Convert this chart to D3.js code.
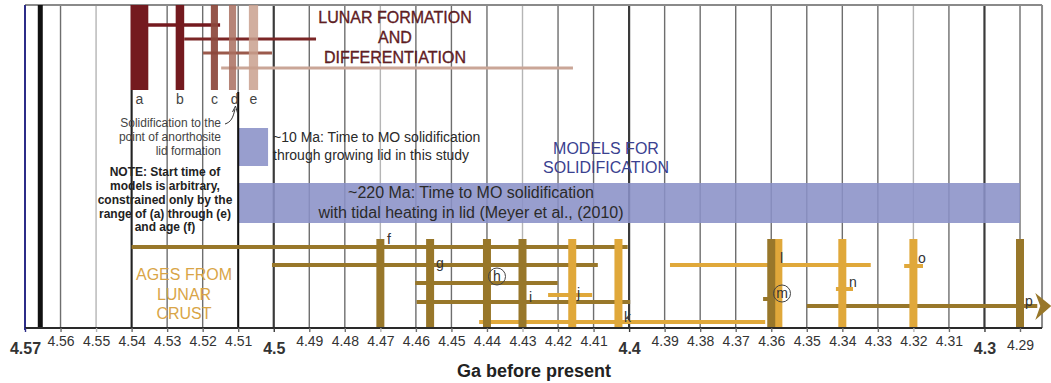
<!DOCTYPE html>
<html>
<head>
<meta charset="utf-8">
<script src="https://cdn.jsdelivr.net/npm/d3@7"></script>
<style>
  body { margin: 0; background: #fff; }
  svg { font-family: "Liberation Sans", Arial, Helvetica, sans-serif; }
</style>
</head>
<body>
<svg id="chart" width="1051" height="383"></svg>
<script>
// Lunar timeline -- ages in Ga before present

var tickValues = [4.57, 4.56, 4.55, 4.54, 4.53, 4.52, 4.51, 4.50, 4.49, 4.48, 4.47, 4.46, 4.45, 4.44,
                  4.43, 4.42, 4.41, 4.40, 4.39, 4.38, 4.37, 4.36, 4.35, 4.34, 4.33, 4.32, 4.31, 4.30, 4.29];
var tickLabels = ["4.57", "4.56", "4.55", "4.54", "4.53", "4.52", "4.51", "4.5", "4.49", "4.48", "4.47", "4.46",
                  "4.45", "4.44", "4.43", "4.42", "4.41", "4.4", "4.39", "4.38", "4.37", "4.36", "4.35", "4.34",
                  "4.33", "4.32", "4.31", "4.3", "4.29"];
var majorLabels = ["4.57", "4.5", "4.4", "4.3"];
var lightLabels = ["4.55", "4.47", "4.43", "4.32"];

var caiAge = 4.5657;   // thick black line
var axisEnd = 4.2838;  // right edge of the frame

// lunar formation and differentiation (a-e)
var formationLabels = ["a", "b", "c", "d", "e"];
var formationBars = [[4.5403, 4.5353], [4.5276, 4.5252], [4.5177, 4.5157], [4.5126, 4.5106], [4.5070, 4.5044]];
var formationRanges = [[4.5354, 4.5151], [4.5252, 4.4881], [4.5199, 4.5005], [4.5148, 4.4158]];

// models for solidification
var modelLabels = ["~10 Ma", "~220 Ma"];
var modelBands = [[4.5098, 4.5016], [4.5098, 4.2900]];

// ages from lunar crust (f-p)
var crustLabels = ["f", "g", "h", "i", "j", "k", "l", "m", "n", "o", "p"];
var crustAges = [4.470, 4.456, 4.440, 4.430, 4.416, 4.403, 4.358, 4.360, 4.340, 4.320, 4.290];
var crustRanges = [[4.5400, 4.4004], [4.5005, 4.4088], [4.4602, 4.4201], [4.4598, 4.3997], [4.4228, 4.4104],
                   [4.4422, 4.3617], [4.3885, 4.3320], [4.3623, 4.3600], [4.3418, 4.3370], [4.3226, 4.3173],
                   [4.3500, 4.2812]];
var crustKind = ["dark", "dark", "dark", "dark", "bright", "bright", "bright", "dark", "bright", "bright", "dark"];
var circled = ["h", "m"];

///////////////////////////////////////////////////////////////////////////////
// layout

var svg = d3.select("#chart");
var yTop = 5, yBottom = 328;

var x = d3.scaleLinear().domain([4.57, 4.29]).range([25, 1020]);

var gold = { dark: "#98772a", bright: "#e0a83a" };
var formationFill = ["#741a1f", "#741a1f", "#8c463b", "#a96f5f", "#c9a08e"];
var formationOpacity = [1, 1, 0.92, 0.85, 0.85];
var formationLine = ["#741a1f", "#7b2626", "#9b5a4c", "#caa697"];
var formationLineY = [25, 39, 53, 68];
var formationLineW = [3.5, 3, 3, 3];

// row of each crust range line and label offsets
var crustLineY = { f: 247, g: 265, h: 283, i: 302, j: 295, k: 322, l: 265, m: 299, n: 289, o: 266, p: 306 };
var crustLabelPos = {
  f: [387, 244], g: [436, 268], h: [497, 281], i: [529, 302], j: [577, 298], k: [624, 322],
  l: [780, 263], m: [782, 298], n: [849, 287], o: [918, 263], p: [1025, 306]
};

var gridColor = function (i) {
  var lab = tickLabels[i];
  if (majorLabels.indexOf(lab) >= 0 && lab !== "4.57") return "#3a3a3a";
  if (lightLabels.indexOf(lab) >= 0) return "#b5b5b5";
  return "#6e6e6e";
};

///////////////////////////////////////////////////////////////////////////////
// gridlines

svg.append("g").selectAll("line")
  .data(tickValues.slice(1))
  .enter().append("line")
  .attr("x1", function (d) { return x(d); })
  .attr("x2", function (d) { return x(d); })
  .attr("y1", yTop).attr("y2", yBottom)
  .attr("stroke", function (d, i) { return gridColor(i + 1); })
  .attr("stroke-width", function (d, i) {
    return majorLabels.indexOf(tickLabels[i + 1]) >= 0 ? 2.2 : 1.4;
  });

// model bands
svg.append("g").selectAll("rect")
  .data(modelBands)
  .enter().append("rect")
  .attr("x", function (d) { return x(d[0]); })
  .attr("width", function (d) { return x(d[1]) - x(d[0]); })
  .attr("y", function (d, i) { return i === 0 ? 128 : 183; })
  .attr("height", function (d, i) { return i === 0 ? 38 : 40; })
  .attr("fill", "#8a91c7")
  .attr("opacity", 0.88);

// frame
svg.append("line").attr("x1", x(4.57)).attr("x2", x(axisEnd)).attr("y1", yTop).attr("y2", yTop)
  .attr("stroke", "#8a8a8a").attr("stroke-width", 2);
svg.append("line").attr("x1", x(axisEnd)).attr("x2", x(axisEnd)).attr("y1", yTop).attr("y2", yBottom)
  .attr("stroke", "#8a8a8a").attr("stroke-width", 2);
svg.append("line").attr("x1", x(4.57)).attr("x2", x(4.57)).attr("y1", yTop).attr("y2", yBottom + 2)
  .attr("stroke", "#2c2c88").attr("stroke-width", 2);
svg.append("line").attr("x1", x(caiAge)).attr("x2", x(caiAge)).attr("y1", yTop).attr("y2", yBottom)
  .attr("stroke", "#111").attr("stroke-width", 5);

// dark start lines at 4.54 and 4.51
svg.append("line").attr("x1", x(4.54)).attr("x2", x(4.54)).attr("y1", 90).attr("y2", yBottom)
  .attr("stroke", "#222").attr("stroke-width", 2);
svg.append("line").attr("x1", x(4.51)).attr("x2", x(4.51)).attr("y1", 92).attr("y2", yBottom)
  .attr("stroke", "#111").attr("stroke-width", 2);

///////////////////////////////////////////////////////////////////////////////
// lunar formation

svg.append("g").selectAll("line")
  .data(formationRanges)
  .enter().append("line")
  .attr("x1", function (d) { return x(d[0]); })
  .attr("x2", function (d) { return x(d[1]); })
  .attr("y1", function (d, i) { return formationLineY[i]; })
  .attr("y2", function (d, i) { return formationLineY[i]; })
  .attr("stroke", function (d, i) { return formationLine[i]; })
  .attr("stroke-width", function (d, i) { return formationLineW[i]; });

svg.append("g").selectAll("rect")
  .data(formationBars)
  .enter().append("rect")
  .attr("x", function (d) { return x(d[0]); })
  .attr("width", function (d) { return x(d[1]) - x(d[0]); })
  .attr("y", yTop).attr("height", 90 - yTop)
  .attr("fill", function (d, i) { return formationFill[i]; })
  .attr("opacity", function (d, i) { return formationOpacity[i]; });

svg.append("g").selectAll("text")
  .data(formationLabels)
  .enter().append("text")
  .attr("x", function (d, i) {
    var b = formationBars[i];
    return i === 3 ? x((b[0] + b[1]) / 2) + 2 : x((b[0] + b[1]) / 2);
  })
  .attr("y", 104)
  .attr("text-anchor", "middle")
  .attr("font-size", 14)
  .attr("fill", "#444")
  .text(function (d) { return d; });

var lunar = svg.append("text").attr("text-anchor", "middle").attr("font-size", 16)
  .attr("fill", "#6e2126").attr("stroke", "#3a1012").attr("stroke-width", 0.3);
[["LUNAR FORMATION", 22.5], ["AND", 43], ["DIFFERENTIATION", 62.5]].forEach(function (l) {
  lunar.append("tspan").attr("x", 395).attr("y", l[1]).text(l[0]);
});

// solidification note + arrow
var solid = svg.append("text").attr("text-anchor", "end").attr("font-size", 12).attr("fill", "#444");
[["Solidification to the", 126.5], ["point of anorthosite", 140.5], ["lid formation", 154.5]].forEach(function (l) {
  solid.append("tspan").attr("x", 221).attr("y", l[1]).text(l[0]);
});

svg.append("path")
  .attr("d", "M225,124 C231,122 233,118 235,109")
  .attr("fill", "none").attr("stroke", "#333").attr("stroke-width", 1);
svg.append("path")
  .attr("d", "M232.5,112 L235.5,106 L237.5,113")
  .attr("fill", "none").attr("stroke", "#333").attr("stroke-width", 1);

var note = svg.append("text").attr("text-anchor", "middle").attr("font-size", 12)
  .attr("font-weight", "bold").attr("fill", "#222");
[["NOTE: Start time of", 175.5], ["models is arbitrary,", 189.5], ["constrained only by the", 203.5],
 ["range of (a) through (e)", 217.5], ["and age (f)", 231]].forEach(function (l) {
  note.append("tspan").attr("x", 165).attr("y", l[1]).text(l[0]);
});

///////////////////////////////////////////////////////////////////////////////
// models for solidification

var m10 = svg.append("text").attr("font-size", 14).attr("fill", "#2a2a2a");
m10.append("tspan").attr("x", 273).attr("y", 141.5).text(modelLabels[0] + ": Time to MO solidification");
m10.append("tspan").attr("x", 273).attr("y", 160).text("through growing lid in this study");

var m220 = svg.append("text").attr("font-size", 16).attr("fill", "#2a2a2a").attr("text-anchor", "middle");
m220.append("tspan").attr("x", 471).attr("y", 198).text(modelLabels[1] + ": Time to MO solidification");
m220.append("tspan").attr("x", 471).attr("y", 218).text("with tidal heating in lid (Meyer et al., (2010)");

var models = svg.append("text").attr("font-size", 16).attr("fill", "#3a4190").attr("text-anchor", "middle");
models.append("tspan").attr("x", 606).attr("y", 154).text("MODELS FOR");
models.append("tspan").attr("x", 606).attr("y", 172.5).text("SOLIDIFICATION");

///////////////////////////////////////////////////////////////////////////////
// ages from lunar crust

var crust = crustLabels.map(function (lab, i) {
  return { label: lab, age: crustAges[i], range: crustRanges[i], kind: crustKind[i] };
});

svg.append("g").selectAll("line")
  .data(crust)
  .enter().append("line")
  .attr("x1", function (d) { return x(d.range[0]); })
  .attr("x2", function (d) { return d.label === "p" ? x(d.range[1]) - 14 : x(d.range[1]); })
  .attr("y1", function (d) { return crustLineY[d.label]; })
  .attr("y2", function (d) { return crustLineY[d.label]; })
  .attr("stroke", function (d) { return gold[d.kind]; })
  .attr("stroke-width", 4);

// arrow head for p
var pEnd = x(crustRanges[10][1]), pY = crustLineY.p;
svg.append("path")
  .attr("d", "M" + (pEnd - 16) + "," + (pY - 13) + " L" + pEnd + "," + pY + " L" + (pEnd - 16) + "," + (pY + 14) +
        " L" + (pEnd - 11) + "," + pY + " Z")
  .attr("fill", gold.dark);

// bright bars behind dark ones
var barOrder = crust.slice().sort(function (a, b) {
  return (a.kind === "bright" ? 0 : 1) - (b.kind === "bright" ? 0 : 1);
});
svg.append("g").selectAll("rect")
  .data(barOrder)
  .enter().append("rect")
  .attr("x", function (d) { return x(d.age) - 4; })
  .attr("width", 8)
  .attr("y", 239)
  .attr("height", yBottom - 239)
  .attr("fill", function (d) { return gold[d.kind]; });

svg.append("g").selectAll("text")
  .data(crust)
  .enter().append("text")
  .attr("x", function (d) { return crustLabelPos[d.label][0]; })
  .attr("y", function (d) { return crustLabelPos[d.label][1]; })
  .attr("text-anchor", function (d) { return circled.indexOf(d.label) >= 0 ? "middle" : "start"; })
  .attr("font-size", 14)
  .attr("fill", "#333")
  .text(function (d) { return d.label; });

svg.append("g").selectAll("circle")
  .data(circled)
  .enter().append("circle")
  .attr("cx", function (d) { return crustLabelPos[d][0]; })
  .attr("cy", function (d) { return crustLabelPos[d][1] - 4.5; })
  .attr("r", 8.5)
  .attr("fill", "none")
  .attr("stroke", "#444")
  .attr("stroke-width", 1);

var ages = svg.append("text").attr("font-size", 16).attr("fill", "#d9a547").attr("text-anchor", "middle");
[["AGES FROM", 280], ["LUNAR", 299.5], ["CRUST", 319]].forEach(function (l) {
  ages.append("tspan").attr("x", 184).attr("y", l[1]).text(l[0]);
});

///////////////////////////////////////////////////////////////////////////////
// x axis

svg.append("line").attr("x1", x(4.57)).attr("x2", x(axisEnd)).attr("y1", yBottom).attr("y2", yBottom)
  .attr("stroke", "#2a2a2a").attr("stroke-width", 2);

var axis = svg.append("g")
  .attr("transform", "translate(0," + yBottom + ")")
  .call(d3.axisBottom(x)
    .tickValues(tickValues)
    .tickFormat(function (d, i) { return tickLabels[i]; })
    .tickSize(4));

axis.select(".domain").remove();
axis.selectAll(".tick line")
  .attr("stroke", function (d, i) { return i === 0 ? "#2c2c88" : gridColor(i); })
  .attr("stroke-width", 1.4);
axis.selectAll(".tick text")
  .attr("font-family", "Liberation Sans, Arial, sans-serif")
  .attr("fill", "#333")
  .attr("dy", 0)
  .attr("font-size", function (d, i) { return majorLabels.indexOf(tickLabels[i]) >= 0 ? 16 : 14; })
  .attr("font-weight", function (d, i) { return majorLabels.indexOf(tickLabels[i]) >= 0 ? "bold" : "normal"; })
  .attr("y", function (d, i) {
    if (majorLabels.indexOf(tickLabels[i]) >= 0) return 26;
    return tickLabels[i] === "4.29" ? 22 : 18;
  });

svg.append("text")
  .attr("x", 534).attr("y", 377)
  .attr("text-anchor", "middle")
  .attr("font-size", 18)
  .attr("font-weight", "bold")
  .attr("fill", "#222")
  .text("Ga before present");
</script>
</body>
</html>
